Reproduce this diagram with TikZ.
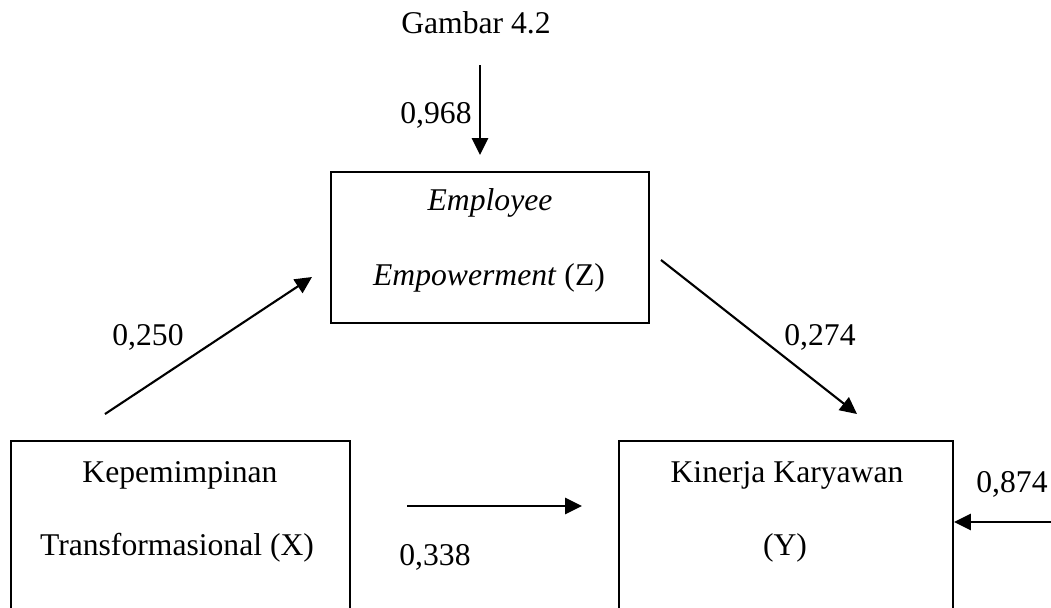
\documentclass[tikz,border=0pt]{standalone}
\usepackage{fontspec}
\setmainfont{Liberation Serif}
\usetikzlibrary{arrows.meta}

\begin{document}
\begin{tikzpicture}[x=0.025cm, y=-0.025cm,
    box/.style={draw, line width=1pt, inner sep=0pt},
    lbl/.style={font=\fontsize{22.5}{27}\selectfont, inner sep=0pt, anchor=base},
    arr/.style={line width=1.5pt, -{Triangle[length=12pt,width=11.5pt]}}]
  \useasboundingbox (0,0) rectangle (1051,607);
  \clip (0,0) rectangle (1051,607);

  \node[lbl] (title) at (476,33) {Gambar 4.2};

  % boxes
  \node[box, minimum width=7.95cm, minimum height=3.775cm] (Z) at (490,247.5) {};
  \node[box, minimum width=8.475cm, minimum height=5.225cm] (X) at (180.5,545.5) {};
  \node[box, minimum width=8.35cm, minimum height=5.225cm] (Y) at (786,545.5) {};

  \node[lbl] (z1) at (490,210) {\textit{Employee}};
  \node[lbl] (z2) at (489,285) {\textit{Empowerment} (Z)};
  \node[lbl] (x1) at (180,482) {Kepemimpinan};
  \node[lbl] (x2) at (177,555) {Transformasional (X)};
  \node[lbl] (y1) at (787,482) {Kinerja Karyawan};
  \node[lbl] (y2) at (785,555) {(Y)};

  % arrow ends
  \coordinate (e1s) at (480,65);   \coordinate (e1t) at (480,155);
  \coordinate (xzs) at (105,414);  \coordinate (xzt) at (312,277);
  \coordinate (zys) at (661,260);  \coordinate (zyt) at (857,414);
  \coordinate (xys) at (407,506);  \coordinate (xyt) at (582,506);
  \coordinate (e2s) at (1051,522); \coordinate (e2t) at (954,522);

  \foreach \a/\b in {e1s/e1t, xzs/xzt, zys/zyt, xys/xyt, e2s/e2t}{\draw[arr] (\a) -- (\b); }

  \node[lbl] (p968) at (436,123) {0,968};
  \node[lbl] (p250) at (148,345) {0,250};
  \node[lbl] (p274) at (820,345) {0,274};
  \node[lbl] (p338) at (435,565) {0,338};
  \node[lbl] (p874) at (1012,492) {0,874};
\end{tikzpicture}
\end{document}
